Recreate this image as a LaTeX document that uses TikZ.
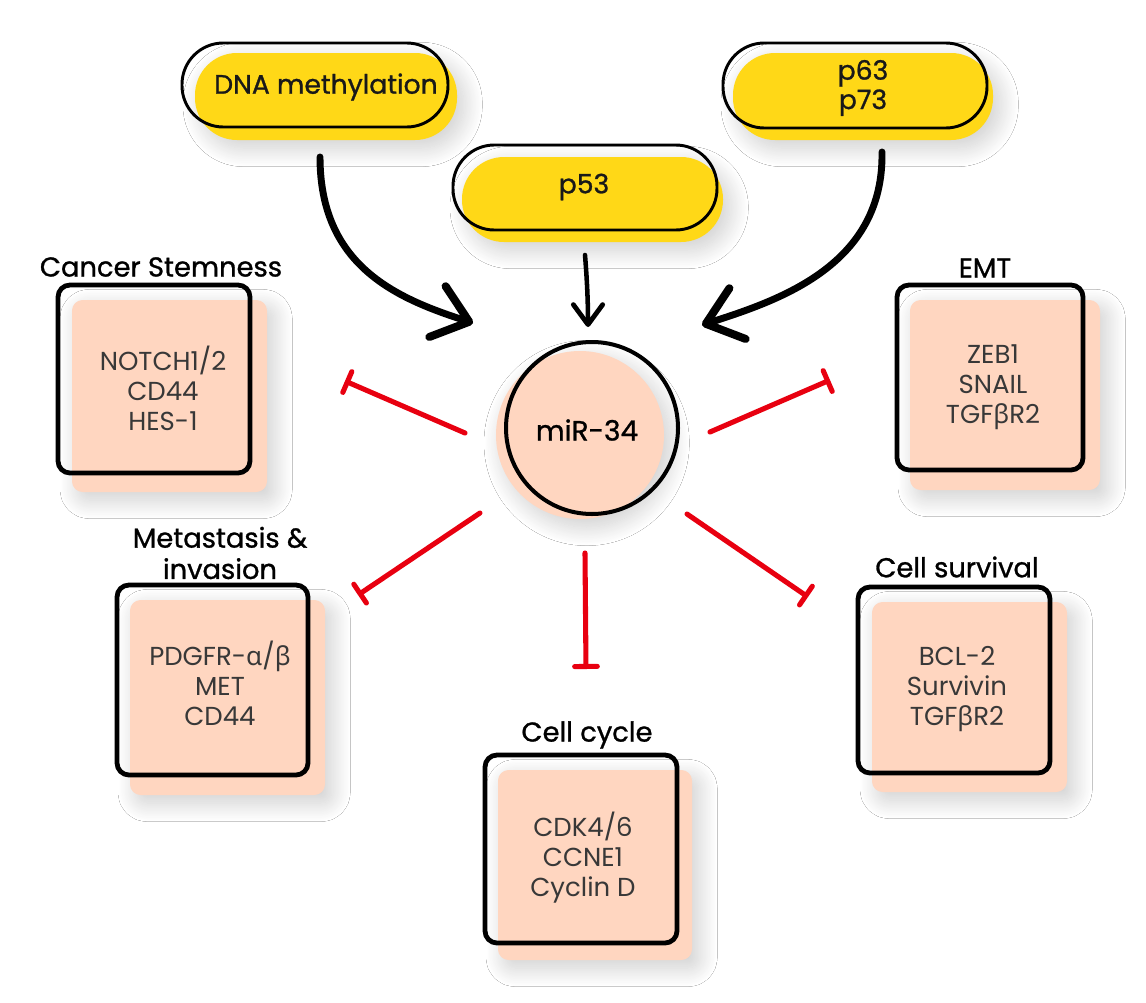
\documentclass[tikz,border=0pt]{standalone}
\usepackage{fontspec}
\setmainfont{Poppins}
\newfontfamily\medfont{Poppins}[FakeBold=1.0]
\newfontfamily\grk{Noto Sans}
\usetikzlibrary{arrows.meta,shadows.blur,calc}
\definecolor{pillyellow}{RGB}{255,216,23}
\definecolor{peach}{RGB}{255,214,192}
\definecolor{inhred}{RGB}{232,0,16}
\begin{document}
\begin{tikzpicture}[x=0.75pt,y=-0.75pt,
  shade/.style={blur shadow={shadow xshift=5pt,shadow yshift=-6pt,shadow blur radius=14pt,shadow blur steps=30,shadow opacity=20}},
  pillfill/.style={fill=pillyellow,rounded corners=31.5pt,shade},
  pillline/.style={draw=black,line width=2.2pt,rounded corners=31pt},
  boxfill/.style={fill=peach,rounded corners=8pt,shade},
  boxline/.style={draw=black,line width=3.6pt,rounded corners=9pt},
  pilltext/.style={font=\medfont\fontsize{20}{23}\selectfont,align=center,text=black!90},
  titletext/.style={font=\medfont\fontsize{20.5}{23.5}\selectfont,align=center,text=black},
  cont/.style={font=\fontsize{19.5}{22.5}\selectfont,align=center,text=black!78},
  inhib/.style={draw=inhred,line width=3.8pt,line cap=round,-{Bar[width=17pt,round]}},
  bigarrow/.style={draw=black,line width=5.2pt,line cap=round,-{Straight Barb[length=25pt,width=40pt,round,line width=6pt]}},
  smallarrow/.style={draw=black,line width=3.4pt,line cap=round,-{Straight Barb[length=15pt,width=22pt,round,line width=3.6pt]}}
]
\useasboundingbox (0,0) rectangle (1146,1003);
\fill[white] (0,0) rectangle (1146,1003);

% pills
\fill[pillfill] (195,53) rectangle (457,140);
\draw[pillline] (182,43) rectangle (448,127);
\node[pilltext] (dna) at (326,87) {DNA methylation};

\fill[pillfill] (462,157) rectangle (723,242);
\draw[pillline] (453,145) rectangle (717,230);
\node[pilltext] (p53) at (584,187) {p53};

\fill[pillfill] (733,53) rectangle (993,140);
\draw[pillline] (723,43) rectangle (987,128);
\node[pilltext] (p6373) at (863,88) {p63\\[-1pt]p73};

% central circle
\fill[peach,shade] (580,435) circle[radius=84];
\draw[black,line width=3pt] (592,428) circle[radius=86];
\node[font=\medfont\fontsize{21}{24}\selectfont] (mir) at (587,430) {miR-34};

% boxes
\fill[boxfill] (72,300) rectangle (267,492);
\draw[boxline] (58,285) rectangle (250,473);
\node[titletext] (t1) at (161,267) {Cancer Stemness};
\node[cont] (c1) at (163,388) {NOTCH1/2\\CD44\\HES-1};

\fill[boxfill] (910,300) rectangle (1100,490);
\draw[boxline] (897,285) rectangle (1083,470);
\node[titletext] (t2) at (985,268) {EMT};
\node[cont] (c2) at (993,387) {ZEB1\\SNAIL\\TGF{\grk β}R2};

\fill[boxfill] (130,600) rectangle (325,795);
\draw[boxline] (117,585) rectangle (308,775);
\node[titletext] (t3) at (220,553) {Metastasis \&\\invasion};
\node[cont] (c3) at (220,683) {PDGFR-{\grk α}/{\grk β}\\MET\\CD44};

\fill[boxfill] (872,602) rectangle (1067,792);
\draw[boxline] (858,587) rectangle (1050,773);
\node[titletext] (t4) at (957,567) {Cell survival};
\node[cont] (c4) at (957,689) {BCL-2\\Survivin\\TGF{\grk β}R2};

\fill[boxfill] (498,770) rectangle (692,960);
\draw[boxline] (485,755) rectangle (677,943);
\node[titletext] (t5) at (587,735) {Cell cycle};
\node[cont] (c5) at (583,858) {CDK4/6\\CCNE1\\Cyclin D};

% arrow coordinates
\coordinate (a1s) at (320,157);
\coordinate (a1e) at (473,323);
\coordinate (a2s) at (585,255);
\coordinate (a2e) at (588,327);
\coordinate (a3s) at (882,152);
\coordinate (a3e) at (702,325);
\draw[bigarrow] (a1s) .. controls (320,265) and (395,298) .. (a1e);
\draw[smallarrow] (a2s) .. controls (587,280) and (588,300) .. (a2e);
\draw[bigarrow] (a3s) .. controls (884,265) and (780,300) .. (a3e);

% inhibition coordinates
\coordinate (i1s) at (465,433); \coordinate (i1e) at (345,381);
\coordinate (i2s) at (710,432); \coordinate (i2e) at (830,380);
\coordinate (i3s) at (480,513); \coordinate (i3e) at (358,595);
\coordinate (i4s) at (687,514); \coordinate (i4e) at (808,597);
\coordinate (i5s) at (585,553); \coordinate (i5e) at (586,669);
\draw[inhib] (i1s) -- (i1e);
\draw[inhib] (i2s) -- (i2e);
\draw[inhib] (i3s) -- (i3e);
\draw[inhib] (i4s) -- (i4e);
\draw[inhib] (i5s) -- (i5e);
\end{tikzpicture}
\end{document}
